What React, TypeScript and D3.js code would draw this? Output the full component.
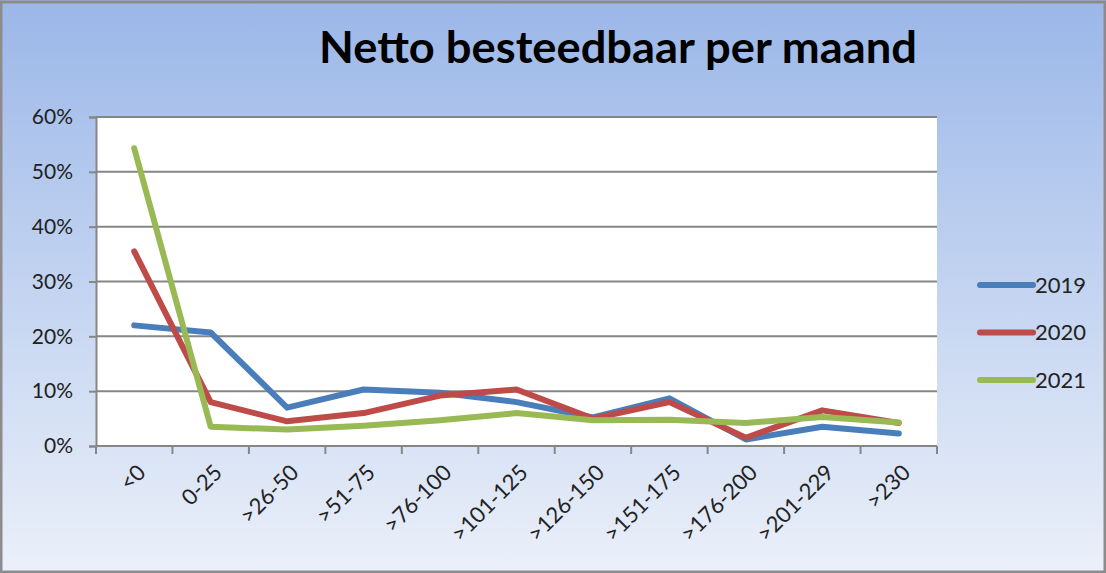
import { useEffect, useRef } from 'react'
import * as d3 from 'd3'

const CATEGORIES = ['<0', '0-25', '>26-50', '>51-75', '>76-100', '>101-125', '>126-150', '>151-175', '>176-200', '>201-229', '>230']
const YEARS = ['2019', '2020', '2021']
const V2019 = [22.0, 20.7, 7.0, 10.3, 9.7, 8.0, 5.2, 8.7, 1.2, 3.5, 2.3]
const V2020 = [35.5, 8.0, 4.5, 6.0, 9.2, 10.3, 5.0, 8.0, 1.5, 6.5, 4.2]
const V2021 = [54.3, 3.5, 3.0, 3.7, 4.7, 6.0, 4.7, 4.8, 4.2, 5.3, 4.3]
const Y_TICKS = [0, 10, 20, 30, 40, 50, 60]
const COLORS = ['#4a7ebb', '#be4b48', '#98b954']

export default function App() {
  const ref = useRef<SVGSVGElement>(null)
  useEffect(() => {
    if (!ref.current) return
    const W = 1106, H = 573
    const m = { top: 117, right: 169, bottom: 127, left: 96 }
    const font = 'Lato, "Open Sans", sans-serif'
    const svg = d3.select(ref.current)
    svg.selectAll('*').remove()
    const defs = svg.append('defs')
    const grad = defs.append('linearGradient').attr('id', 'bg').attr('x1', '0').attr('y1', '0').attr('x2', '0').attr('y2', '1')
    grad.append('stop').attr('offset', '0%').attr('stop-color', '#9bb7e8')
    grad.append('stop').attr('offset', '100%').attr('stop-color', '#ebf0f9')
    svg.append('rect').attr('width', W).attr('height', H).attr('fill', 'url(#bg)')
    svg.append('rect').attr('x', 1).attr('y', 2).attr('width', W - 2).attr('height', H - 3)
      .attr('fill', 'none').attr('stroke', '#8c8c8c').attr('stroke-width', 3)

    svg.append('text').attr('x', 618).attr('y', 63).attr('text-anchor', 'middle')
      .attr('textLength', 598).attr('lengthAdjust', 'spacingAndGlyphs')
      .style('font-family', font).style('font-weight', 'bold').style('font-size', '44px')
      .attr('fill', '#000').text('Netto besteedbaar per maand')

    const iW = W - m.left - m.right, iH = H - m.top - m.bottom
    const g = svg.append('g').attr('transform', `translate(${m.left},${m.top})`)
    const x = d3.scaleBand().domain(CATEGORIES).range([0, iW])
    const y = d3.scaleLinear().domain([0, 60]).range([iH, 0])

    g.append('rect').attr('width', iW).attr('height', iH).attr('fill', '#fff')
    g.selectAll('.grid').data(Y_TICKS.slice(1)).join('line').attr('class', 'grid')
      .attr('x1', 0).attr('x2', iW).attr('y1', d => y(d)).attr('y2', d => y(d))
      .attr('stroke', '#868686').attr('stroke-width', 2)

    const yAxis = g.append('g').call(d3.axisLeft(y).tickValues(Y_TICKS).tickSize(7).tickPadding(16).tickFormat(d => `${d}%`))
    yAxis.select('.domain').attr('stroke', '#868686').attr('stroke-width', 2)
    yAxis.selectAll('.tick line').attr('stroke', '#868686').attr('stroke-width', 2)
    yAxis.selectAll('.tick text').style('font-family', font).style('font-size', '21px').attr('fill', '#222')

    const xAxis = g.append('g').attr('transform', `translate(0,${iH})`)
    xAxis.append('line').attr('x1', 0).attr('x2', iW).attr('stroke', '#868686').attr('stroke-width', 2)
    xAxis.selectAll('.xt').data(d3.range(CATEGORIES.length + 1)).join('line').attr('class', 'xt')
      .attr('x1', i => i * x.bandwidth()).attr('x2', i => i * x.bandwidth()).attr('y1', 0).attr('y2', 8)
      .attr('stroke', '#868686').attr('stroke-width', 2)
    xAxis.selectAll('text').data(CATEGORIES).join('text')
      .attr('transform', d => `translate(${(x(d) as number) + x.bandwidth() / 2 + 2},${17}) rotate(-45)`)
      .attr('text-anchor', 'end').attr('dy', '0.7em')
      .style('font-family', font).style('font-size', '22px').attr('fill', '#222')
      .text(d => d)

    const series = [V2019, V2020, V2021]
    const line = d3.line<number>().x((_, i) => (x(CATEGORIES[i]) as number) + x.bandwidth() / 2).y(d => y(d))
    series.forEach((s, k) => {
      g.append('path').attr('d', line(s)).attr('fill', 'none').attr('stroke', COLORS[k])
        .attr('stroke-width', 6).attr('stroke-linejoin', 'round').attr('stroke-linecap', 'round')
    })

    const lg = svg.append('g').attr('transform', 'translate(980,285)')
    YEARS.forEach((yr, k) => {
      const row = lg.append('g').attr('transform', `translate(0,${k * 47.5})`)
      row.append('line').attr('x1', 0).attr('x2', 53).attr('stroke', COLORS[k]).attr('stroke-width', 6).attr('stroke-linecap', 'round')
      row.append('text').attr('x', 55).attr('dy', '0.35em')
        .style('font-family', font).style('font-size', '22px').attr('fill', '#222').text(yr)
    })
  }, [])
  return <svg ref={ref} width={1106} height={573} style={{ position: 'absolute', left: 0, top: 0 }} />
}
